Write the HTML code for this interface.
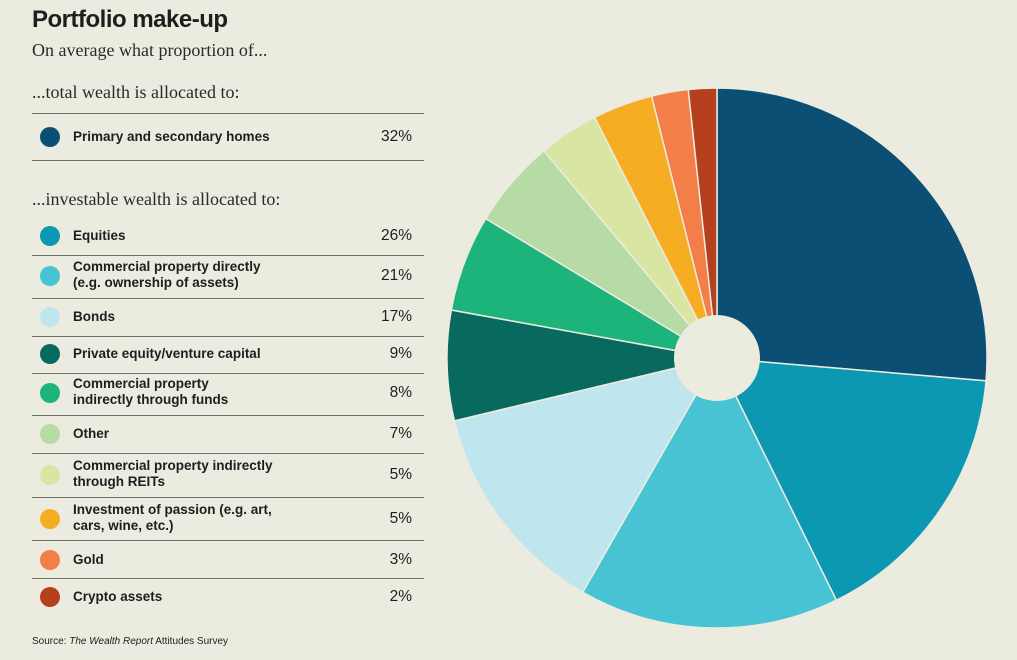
<!DOCTYPE html>
<html><head><meta charset="utf-8"><style>
body{margin:0;width:1017px;height:660px;background:#ecebe0;overflow:hidden;position:relative;font-family:"Liberation Sans",sans-serif;color:#1e1e1e}
.t{position:absolute;left:32px;top:6px;font-size:24px;font-weight:bold;letter-spacing:-0.5px}
.serif{position:absolute;left:32px;font-family:"Liberation Serif",serif;font-size:18px;color:#2a2a2a}
.line{position:absolute;left:32px;width:392px;height:0;border-top:1.5px solid #6f6f68}
.row{position:absolute;left:32px;width:392px}
.dot{position:absolute;left:8px;width:20px;height:20px;border-radius:50%}
.lab{position:absolute;left:41px;font-size:13.5px;font-weight:bold;line-height:16px}
.pct{position:absolute;right:12px;font-size:15.5px}
.src{position:absolute;left:32px;top:636px;font-size:10px}
</style></head><body>
<div class="t">Portfolio make-up</div>
<div class="serif" style="top:40px">On average what proportion of...</div>
<div class="serif" style="top:82px">...total wealth is allocated to:</div>
<div class="serif" style="top:189px">...investable wealth is allocated to:</div>
<div id="legend"></div>
<div class="src">Source: <i>The Wealth Report</i> Attitudes Survey</div>
<svg id="pie" width="1017" height="660" style="position:absolute;left:0;top:0"></svg>
<script>
const categories=["Primary and secondary homes","Equities","Commercial property directly<br>(e.g. ownership of assets)","Bonds","Private equity/venture capital","Commercial property<br>indirectly through funds","Other","Commercial property indirectly<br>through REITs","Investment of passion (e.g. art,<br>cars, wine, etc.)","Gold","Crypto assets"];
const values=[32,26,21,17,9,8,7,5,5,3,2];
const pieShares=[26.4,16.4,15.6,13,6.6,5.8,5.3,3.6,3.6,2.2,1.7];
const colors=["#0b4f74","#0c98b3","#47c3d4","#bfe5ef","#086a5e","#1db47c","#b6dba4","#d9e6a3","#f6ad23","#f37e47","#b5401d"];
const rowCenters=[137,236,276,317,354,393,434,475,519,560,597];
const lines=[113,160,255,298,336,373,415,453,497,540,578];
const leg=document.getElementById('legend');
lines.forEach(y=>{const d=document.createElement('div');d.className='line';d.style.top=y+'px';


leg.appendChild(d);});
categories.forEach((c,i)=>{const r=document.createElement('div');r.className='row';r.style.top=rowCenters[i]+'px';


const two=c.includes('<br>');
r.innerHTML='<div class="dot" style="top:-10px;background:'+colors[i]+'"></div><div class="lab" style="top:'+(two?-17:-8)+'px">'+c+'</div><div class="pct" style="top:-9px">'+values[i]+'%</div>';
leg.appendChild(r);});
const svg=document.getElementById('pie');const NS='http://www.w3.org/2000/svg';
const cx=717,cy=358,R=270,hole=43;
const total=pieShares.reduce((a,b)=>a+b,0);
function pt(a,r){return [cx+r*Math.sin(a),cy-r*Math.cos(a)];}
let a0=0;
pieShares.forEach((v,i)=>{const a1=a0+v/total*2*Math.PI;const p0=pt(a0,R),p1=pt(a1,R);
const p=document.createElementNS(NS,'path');
p.setAttribute('d','M'+cx+','+cy+'L'+p0+'A'+R+','+R+' 0 '+((a1-a0)>Math.PI?1:0)+' 1 '+p1+'Z');
p.setAttribute('fill',colors[i]);p.setAttribute('stroke','#ecebe0');p.setAttribute('stroke-width','1.5');


svg.appendChild(p);a0=a1;});
const h=document.createElementNS(NS,'circle');h.setAttribute('cx',cx);h.setAttribute('cy',cy);h.setAttribute('r',hole);h.setAttribute('fill','#ecebe0');


svg.appendChild(h);
</script>
</body></html>
